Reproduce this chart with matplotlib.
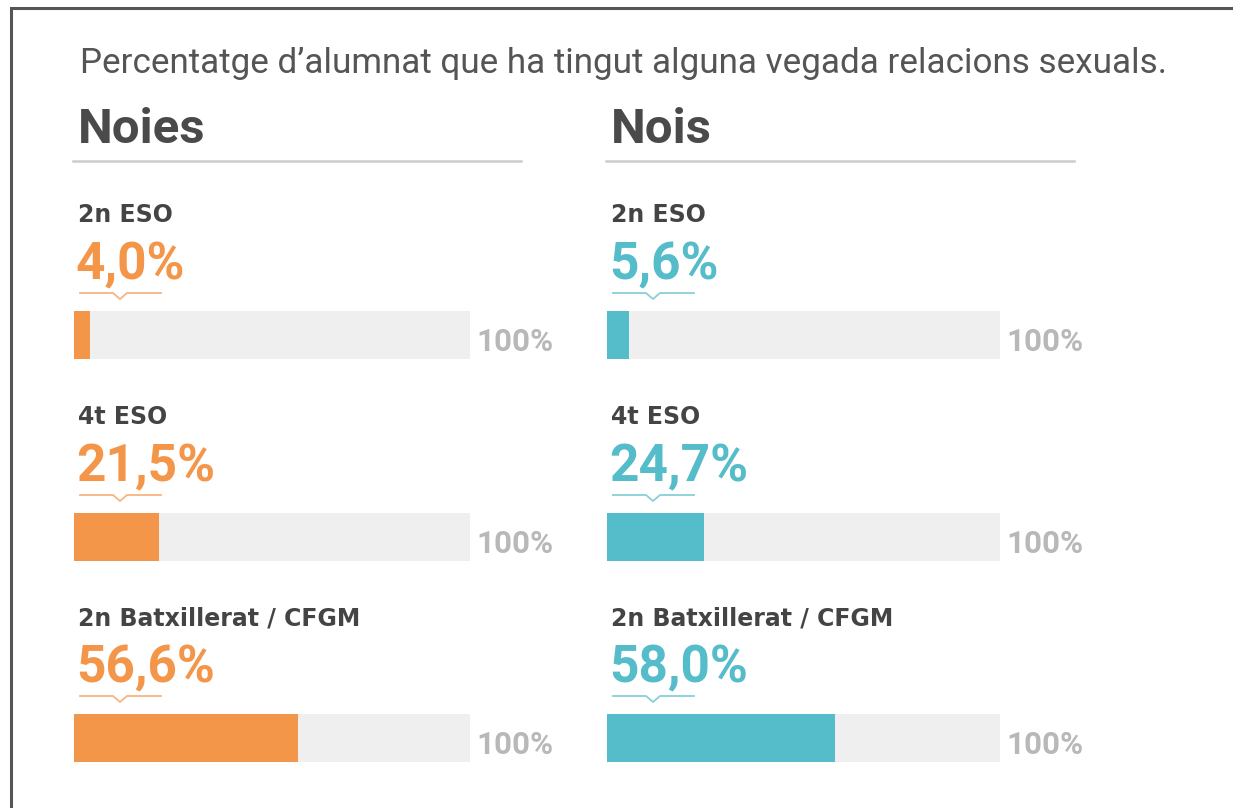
import matplotlib.pyplot as plt

# Données
title = "Percentatge d\u2019alumnat que ha tingut alguna vegada relacions sexuals."
groups = ["Noies", "Nois"]
levels = ["2n ESO", "4t ESO", "2n Batxillerat / CFGM"]
noies = [4.0, 21.5, 56.6]
nois = [5.6, 24.7, 58.0]
colors = ["#F4964A", "#55BCC9"]

W, H = 1233, 808
plt.rcParams['font.family'] = ['Roboto', 'DejaVu Sans']

fig = plt.figure(figsize=(W / 100, H / 100), dpi=100)
ax0 = fig.add_axes([0, 0, 1, 1])
ax0.set_xlim(0, W)
ax0.set_ylim(H, 0)
ax0.axis('off')

# cadre (gauche + haut)
ax0.plot([11, 11, W], [H, 8, 8], color='#555555', lw=2.2, solid_joinstyle='miter')

ax0.text(80, 63, title, fontsize=25.2, color='#555555', va='center', ha='left')

col_x = [74, 607]
bar_w = [396, 393]
row_y = [0, 202, 403]

def fmt(v):
    return f"{v:.1f}%".replace('.', ',')

for g, (name, vals, c, x0, bw) in enumerate(zip(groups, [noies, nois], colors, col_x, bar_w)):
    ax0.text(x0 + 4, 130, name, fontsize=35.5, fontweight='bold', color='#4a4a4a',
             va='center', ha='left')
    ax0.plot([x0 - 1, x0 + 447 + g * 20], [161, 161], color='#cccccc', lw=1.8)
    for i, (lvl, v) in enumerate(zip(levels, vals)):
        dy = row_y[i]
        ax0.text(x0 + 4, 215 + dy, lvl, fontsize=17, fontweight='bold', color='#444444',
                 family='DejaVu Sans', va='center', ha='left')
        ax0.text(x0 + 2, 265 + dy, fmt(v), fontsize=37, fontweight='bold', color=c,
                 va='center', ha='left')
        # petite bulle sous le chiffre
        yb = 293 + dy
        ax0.plot([x0 + 6, x0 + 39, x0 + 46, x0 + 53, x0 + 87],
                 [yb, yb, yb + 6, yb, yb], color=c, lw=1.3, alpha=0.7)
        # barre
        bx = fig.add_axes([x0 / W, 1 - (359 + dy) / H, bw / W, 48 / H])
        bx.barh(0, 100, height=1, color='#efefef')
        bx.barh(0, v, height=1, color=c)
        bx.set_xlim(0, 100)
        bx.set_ylim(-0.5, 0.5)
        bx.axis('off')
        ax0.text(x0 + bw + 6, 342 + dy, "100%", fontsize=22.5, fontweight='bold',
                 color='#b8b8b8', va='center', ha='left')

fig.savefig('out.png', dpi=100)
